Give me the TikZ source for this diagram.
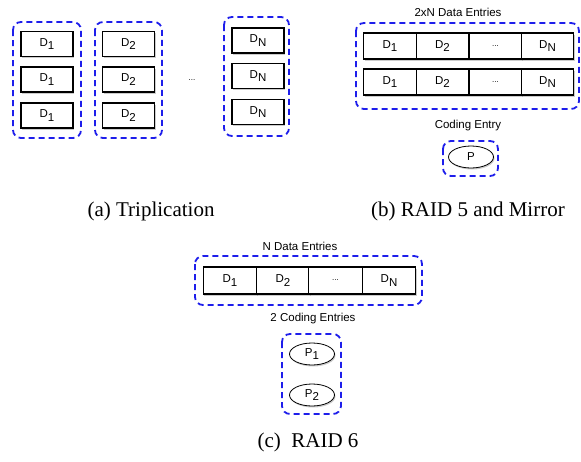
\documentclass[tikz,border=0pt]{standalone}
\usepackage{fontspec}
\setmainfont{Liberation Serif}
\setsansfont{Liberation Sans}
\usetikzlibrary{shadows,shapes.geometric}
\definecolor{grpblue}{RGB}{30,30,235}
\newcommand\ix[1]{\raisebox{-0.55ex}{#1}}
\newcommand\skipdots{{\fontsize{8}{9}\selectfont ...}}

\begin{document}
\begin{tikzpicture}[x=1pt,y=-1pt,font=\sffamily\fontsize{11.5}{13}\selectfont,
  cell/.style={draw,line width=1.1pt,fill=white,minimum width=52pt,minimum height=25pt,inner sep=0pt,
    drop shadow={opacity=0.4,shadow xshift=1pt,shadow yshift=-1.5pt}},
  coding/.style={ellipse,draw,line width=0.8pt,fill=white,minimum width=45pt,minimum height=22pt,inner sep=0pt,
    drop shadow={opacity=0.4,shadow xshift=1pt,shadow yshift=-1.5pt}},
  group/.style={draw=grpblue,line width=1.8pt,dash pattern=on 6pt off 4pt,rounded corners=8pt},
  caption/.style={font=\rmfamily\fontsize{21}{24}\selectfont}]
  \useasboundingbox (0,0) rectangle (581,461);
  % (a) triplication
  \draw[group] (13,22) rectangle (81,138);
  \draw[group] (95,22) rectangle (162,138);
  \draw[group] (224,17) rectangle (289,136);
  \foreach \s/\x in {1/47,2/128.5}
    \foreach \r/\y in {1/44,2/79.5,3/115.5}
      \node[cell] (t\s r\r) at (\x,\y) {D\ix{\s}};
  \foreach \r/\y in {1/40.5,2/76,3/112}
    \node[cell] (tNr\r) at (258,\y) {D\ix{N}};
  \node (tdots) at (192,80) {\skipdots};
  \node[caption] (capa) at (151,211) {(a) Triplication};
  % (b) RAID 5 and mirror
  \node (mlabel) at (458,12) {2xN Data Entries};
  \draw[group] (356,23) rectangle (579,109);
  \foreach \r/\y in {1/46,2/82}
    \foreach \i/\x/\t in {1/390/D\ix{1},2/442.5/D\ix{2},3/495.5/\skipdots,4/547.5/D\ix{N}}
      \node[cell,minimum width=52.5pt,minimum height=26pt] (m\r c\i) at (\x,\y) {\t};
  \node (plabel) at (468,126) {Coding Entry};
  \draw[group] (443,141) rectangle (498,176);
  \node[coding] (p) at (471,157) {P};
  \node[caption] (capb) at (468,211) {(b) RAID 5 and Mirror};
  % (c) RAID 6
  \node (dlabel) at (300,246) {N Data Entries};
  \draw[group] (195,256) rectangle (422,305);
  \foreach \i/\x/\t in {1/230/D\ix{1},2/283/D\ix{2},3/335.5/\skipdots,4/389/D\ix{N}}
    \node[cell,minimum width=53.3pt,minimum height=27pt] (r\i) at (\x,280.5) {\t};
  \node (qlabel) at (313,319) {2 Coding Entries};
  \draw[group] (282,334) rectangle (341,414);
  \node[coding] (q1) at (312,354) {P\ix{1}};
  \node[coding] (q2) at (312,395) {P\ix{2}};
  \node[caption] (capc) at (308,442) {(c)\ \ RAID 6};
\end{tikzpicture}
\end{document}
